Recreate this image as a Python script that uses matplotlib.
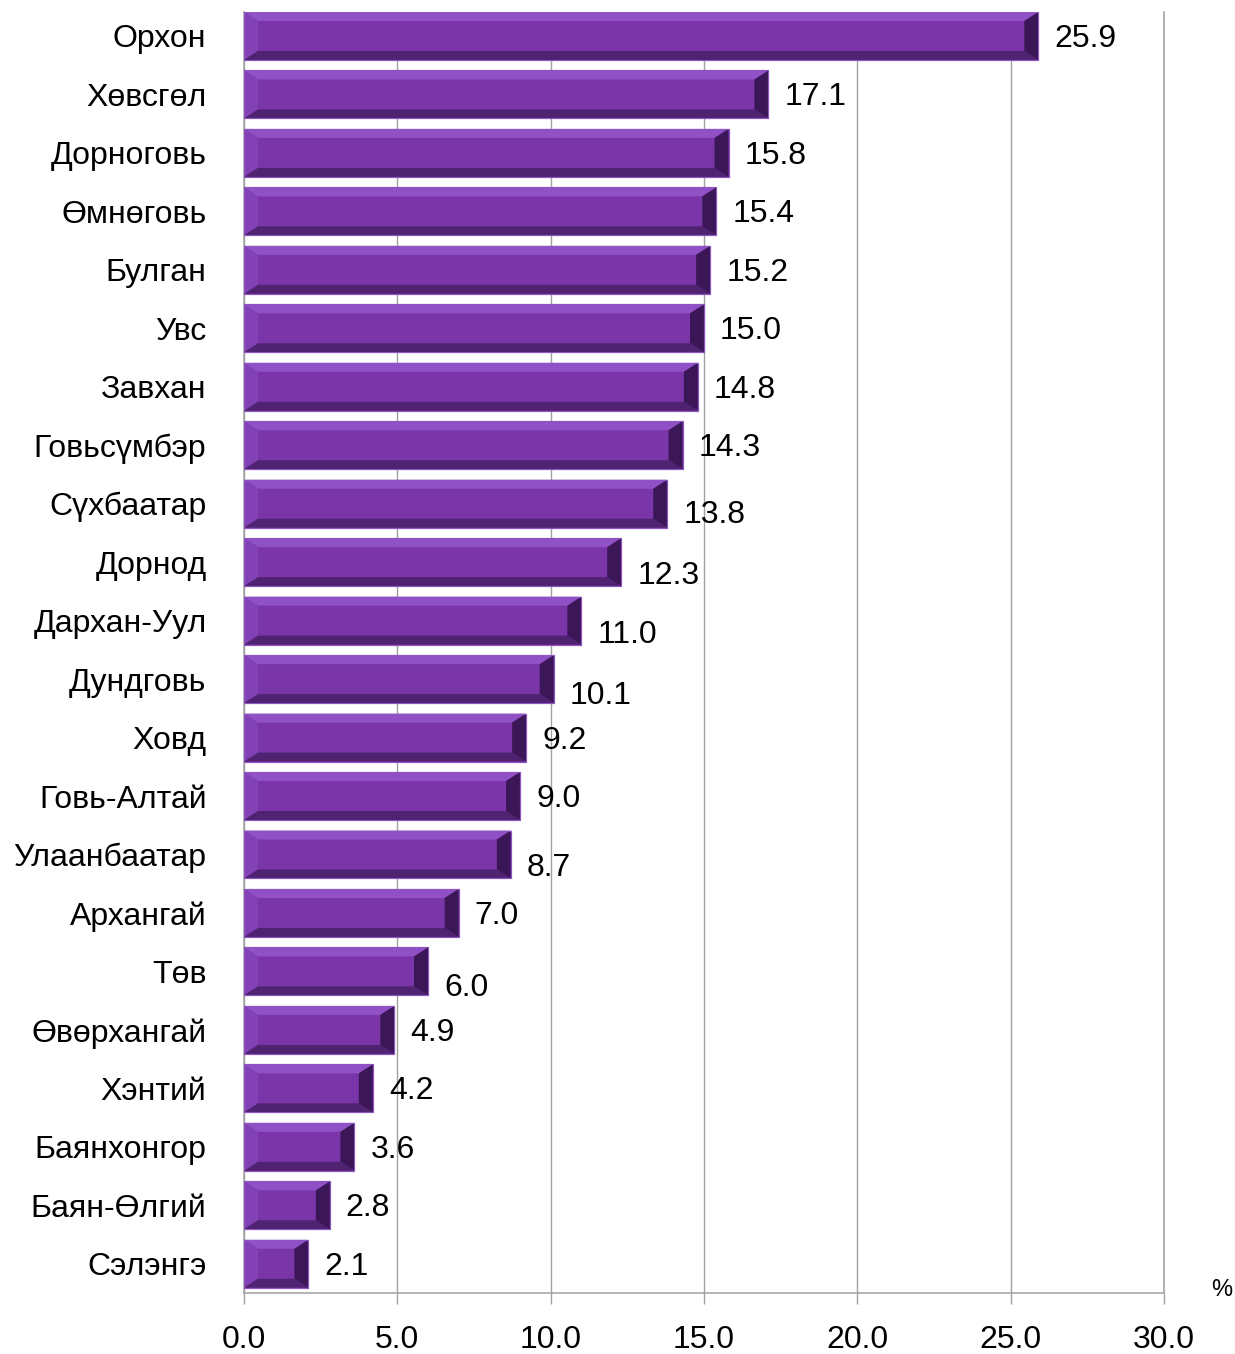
import matplotlib
matplotlib.use("Agg")
import matplotlib.pyplot as plt
from matplotlib.patches import Polygon

plt.rcParams['font.family'] = ['Liberation Sans', 'DejaVu Sans']

regions = ["Орхон", "Хөвсгөл", "Дорноговь", "Өмнөговь", "Булган", "Увс", "Завхан",
           "Говьсүмбэр", "Сүхбаатар", "Дорнод", "Дархан-Уул", "Дундговь", "Ховд",
           "Говь-Алтай", "Улаанбаатар", "Архангай", "Төв", "Өвөрхангай", "Хэнтий",
           "Баянхонгор", "Баян-Өлгий", "Сэлэнгэ"]
values = [25.9, 17.1, 15.8, 15.4, 15.2, 15.0, 14.8, 14.3, 13.8, 12.3, 11.0, 10.1,
          9.2, 9.0, 8.7, 7.0, 6.0, 4.9, 4.2, 3.6, 2.8, 2.1]
xticks = [0, 5, 10, 15, 20, 25, 30]
xtick_labels = ["0.0", "5.0", "10.0", "15.0", "20.0", "25.0", "30.0"]

# label vertical offsets in pixels (style quirk of the original)
label_dy = [0, 0, 0, 0, 0, 0, 0, 0, 8, 11, 11, 14, 0, 0, 10, 0, 14, 0, 0, 0, 0, 0]

W, H = 1235, 1354
fig = plt.figure(figsize=(W / 100, H / 100), dpi=100)
ax = fig.add_axes([244 / W, 1 - 1293 / H, (1164 - 244) / W, (1293 - 12) / H])

n = len(regions)
ys = list(range(n))
bh = 0.82
face = '#7A36A8'
ax.barh(ys, values, height=bh, color=face, edgecolor='#8E55C2', linewidth=0.8, zorder=3)

ax.set_xlim(0, 30)
ax.set_ylim(n - 0.5, -0.41)

# bevel sizes in data units
px_x = 30 / 920.0
px_y = (n - 0.5 + 0.41) / 1281.0
bx = 14 * px_x
by = 9 * px_y

for y, v in zip(ys, values):
    top = y - bh / 2
    bot = y + bh / 2
    x0, x1 = 0, v
    bxx = min(bx, v * 0.22)
    ax.add_patch(Polygon([(x0, top), (x1, top), (x1 - bxx, top + by), (x0 + bxx, top + by)],
                         closed=True, facecolor='#9050C6', edgecolor='none', zorder=4))
    ax.add_patch(Polygon([(x0, top), (x0 + bxx, top + by), (x0 + bxx, bot - by), (x0, bot)],
                         closed=True, facecolor='#8242B6', edgecolor='none', zorder=4))
    ax.add_patch(Polygon([(x0, bot), (x0 + bxx, bot - by), (x1 - bxx, bot - by), (x1, bot)],
                         closed=True, facecolor='#4F2372', edgecolor='none', zorder=4))
    ax.add_patch(Polygon([(x1, top), (x1, bot), (x1 - bxx, bot - by), (x1 - bxx, top + by)],
                         closed=True, facecolor='#3C1758', edgecolor='none', zorder=4))
    ax.add_patch(Polygon([(x0, top), (x1, top), (x1, bot), (x0, bot)], closed=True,
                         facecolor='none', edgecolor='#8E55C2', linewidth=0.8, zorder=5))

for y, v, dy in zip(ys, values, label_dy):
    ax.annotate(f"{v:.1f}", xy=(v, y), xytext=(16, -dy - 3), textcoords='offset pixels',
                ha='left', va='center', fontsize=23, color='black', zorder=6)

ax.set_yticks(ys)
ax.set_yticklabels(regions, fontsize=23)
ax.tick_params(axis='y', length=0, pad=27)
ax.set_xticks(xticks)
ax.set_xticklabels(xtick_labels, fontsize=23)
ax.tick_params(axis='x', length=8, width=1, color='#A0A0A0', pad=15, direction='out')

ax.grid(axis='x', color='#A0A0A0', linewidth=1, zorder=0)
ax.set_axisbelow(True)
ax.spines['top'].set_visible(False)
for s in ['left', 'bottom', 'right']:
    ax.spines[s].set_color('#A0A0A0')
    ax.spines[s].set_linewidth(1.1)

fig.text(1222 / W, 1 - 1290 / H, "%", fontsize=17, ha='center', va='center')

fig.savefig("out.png", dpi=100, facecolor='white')
